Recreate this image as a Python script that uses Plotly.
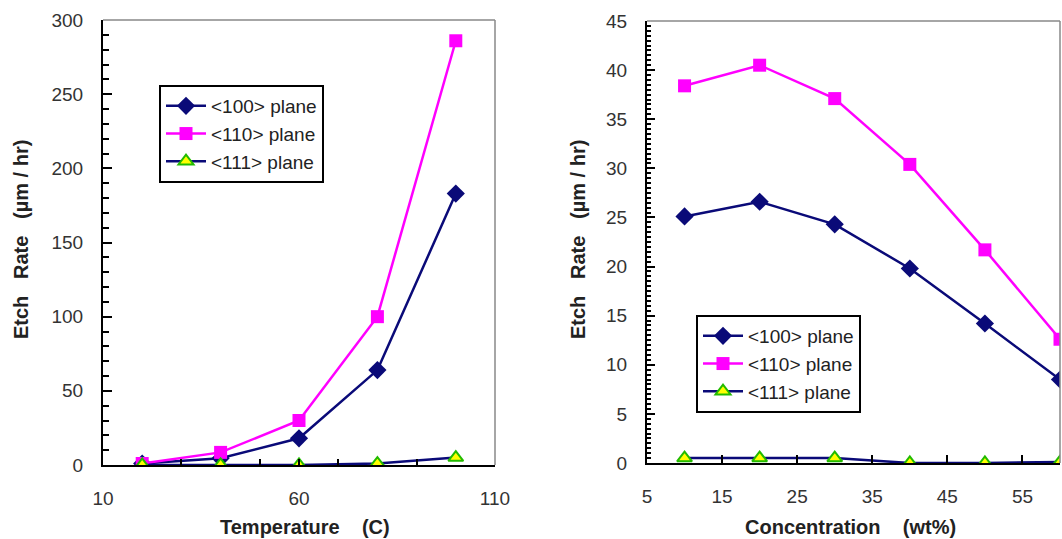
import plotly.graph_objects as go

# ---- Data: left panel (temperature) ----
temp_c = [20, 40, 60, 80, 100]
temp_p100 = [1, 4.5, 18, 64, 183]
temp_p110 = [1, 8.5, 30, 100, 286]
temp_p111 = [0, 0, 0, 1, 5]

# ---- Data: right panel (concentration) ----
conc_wt = [10, 20, 30, 40, 50, 60]
conc_p100 = [25.1, 26.6, 24.3, 19.8, 14.2, 8.5]
conc_p110 = [38.4, 40.5, 37.1, 30.4, 21.7, 12.6]
conc_p111 = [0.5, 0.5, 0.5, 0.0, 0.0, 0.1]

series_names = ["<100> plane", "<110> plane", "<111> plane"]

NAVY = "#0a0a78"
MAGENTA = "#ff00ff"
W, H = 1062, 539
FONT = "Liberation Sans"
TICKCOL = "#333333"

fig = go.Figure()

def add_series(x, ys, xa, ya, leg):
    styles = [
        dict(line=dict(color=NAVY, width=2.5),
             marker=dict(symbol="diamond", size=14, color=NAVY)),
        dict(line=dict(color=MAGENTA, width=2.5),
             marker=dict(symbol="square", size=13, color=MAGENTA)),
        dict(line=dict(color=NAVY, width=2.5),
             marker=dict(symbol="triangle-up", size=13, color="#ffff00",
                         line=dict(color="#22bb00", width=2))),
    ]
    for i, (name, y) in enumerate(zip(series_names, ys)):
        fig.add_trace(go.Scatter(
            x=x, y=y, name=name, mode="lines+markers",
            xaxis=xa, yaxis=ya, legend=leg, legendgroup=f"{leg}{i}",
            **styles[i]))

add_series(temp_c, [temp_p100, temp_p110, temp_p111], "x", "y", "legend")
add_series(conc_wt, [conc_p100, conc_p110, conc_p111], "x2", "y2", "legend2")

def px_x(p):
    return p / W

def px_y(p):
    return 1 - p / H

tickfont = dict(family=FONT, size=19, color=TICKCOL)
axis_common = dict(showline=True, linecolor="black", linewidth=2,
                   showgrid=False, zeroline=False, ticks="inside",
                   tickcolor="black", tickwidth=2, tickfont=tickfont,
                   automargin=False)

fig.update_layout(
    template="none",
    width=W, height=H,
    margin=dict(l=0, r=0, t=0, b=0, autoexpand=False),
    paper_bgcolor="white", plot_bgcolor="white",
    font=dict(family=FONT, color="#222222"),
    xaxis=dict(domain=[px_x(103), px_x(495)], range=[10, 110],
               tick0=10, dtick=50, ticklen=6, anchor="y",
               ticklabelstandoff=15,
               minor=dict(tick0=10, dtick=20, ticks="inside", ticklen=6,
                          tickcolor="black", tickwidth=2),
               **axis_common),
    yaxis=dict(domain=[px_y(465), px_y(20)], range=[0, 300],
               tick0=0, dtick=50, ticklen=9, anchor="x",
               ticklabelstandoff=14,
               minor=dict(dtick=10, ticks="inside", ticklen=6,
                          tickcolor="black", tickwidth=2),
               **axis_common),
    xaxis2=dict(domain=[px_x(647), px_x(1060)], range=[5, 60],
                tick0=5, dtick=10, ticklen=8, anchor="y2",
                ticklabelstandoff=15,
                **axis_common),
    yaxis2=dict(domain=[px_y(463), px_y(21)], range=[0, 45],
                tick0=0, dtick=5, ticklen=8, anchor="x2",
                ticklabelstandoff=14,
                minor=dict(dtick=0.5, ticks="inside", ticklen=4,
                           tickcolor="black", tickwidth=1.5),
                **axis_common),
    legend=dict(x=px_x(159), y=px_y(85), xanchor="left", yanchor="top",
                bgcolor="white", bordercolor="black", borderwidth=2,
                font=dict(family=FONT, size=19, color="#222222"),
                tracegroupgap=0, itemwidth=40),
    legend2=dict(x=px_x(696), y=px_y(315), xanchor="left", yanchor="top",
                 bgcolor="white", bordercolor="black", borderwidth=2,
                 font=dict(family=FONT, size=19, color="#222222"),
                 tracegroupgap=0, itemwidth=40),
    showlegend=True,
)

# thin gray top/right frame lines of each plot area
for xr, yr in (("x domain", "y domain"), ("x2 domain", "y2 domain")):
    fig.add_shape(type="line", xref=xr, yref=yr, x0=0, x1=1, y0=1, y1=1,
                  line=dict(color="#888888", width=1.5))
    fig.add_shape(type="line", xref=xr, yref=yr, x0=1, x1=1, y0=0, y1=1,
                  line=dict(color="#888888", width=1.5))

title_font = dict(family=FONT, size=20, color="#222222")
annots = [
    dict(text="<b>Temperature    (C)</b>", x=px_x(305), y=px_y(527)),
    dict(text="<b>Concentration    (wt%)</b>", x=px_x(850), y=px_y(527)),
    dict(text="<b>Etch   Rate   (µm / hr)</b>", x=px_x(21), y=px_y(240), textangle=-90),
    dict(text="<b>Etch   Rate   (µm / hr)</b>", x=px_x(578), y=px_y(240), textangle=-90),
]
for a in annots:
    fig.add_annotation(xref="paper", yref="paper", showarrow=False,
                       xanchor="center", yanchor="middle", font=title_font, **a)

fig.write_html(
    "out.html",
    config={"displayModeBar": False},
    post_script="document.body.style.margin='0';document.body.style.padding='0';",
)
